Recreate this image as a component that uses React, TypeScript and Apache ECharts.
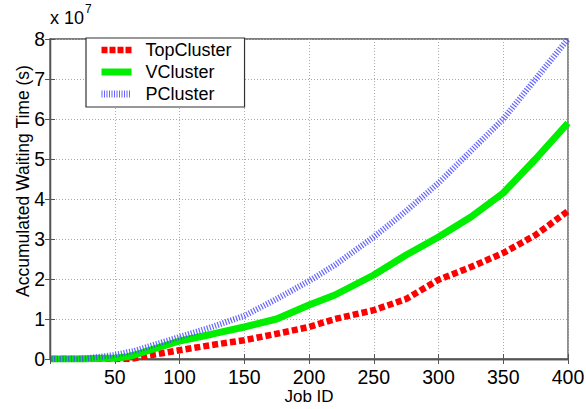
import React, { useEffect, useRef } from "react";
import * as echarts from "echarts";

const jobIds = [1, 25, 40, 50, 60, 65, 75, 100, 125, 150, 175, 200, 220, 250, 275, 300, 325, 350, 375, 400];
const topCluster = [0, 0, 0, 0, 0, 0.02, 0.08, 0.22, 0.35, 0.47, 0.63, 0.8, 1.0, 1.22, 1.5, 1.98, 2.3, 2.65, 3.1, 3.7];
const vCluster = [0, 0, 0.02, 0.02, 0.06, 0.1, 0.2, 0.45, 0.62, 0.8, 1.0, 1.35, 1.6, 2.1, 2.6, 3.05, 3.55, 4.15, 5.0, 5.9];
const pCluster = [0, 0.01, 0.06, 0.1, 0.17, 0.2, 0.3, 0.55, 0.8, 1.08, 1.5, 1.95, 2.35, 3.05, 3.7, 4.4, 5.2, 6.0, 7.0, 8.0];
const seriesNames = ["TopCluster", "VCluster", "PCluster"];
const yTitle = "Accumulated Waiting Time (s)";
const xTitle = "Job ID";
const scale = 1e7;

const pairs = (ys: number[]) => jobIds.map((x, i) => [x, ys[i] * scale]);

export default function App() {
  const ref = useRef<HTMLDivElement>(null);
  useEffect(() => {
    if (!ref.current) return;
    const chart = echarts.init(ref.current, undefined, { renderer: "svg" });
    const font = "Liberation Sans, Arial, sans-serif";
    const gridLine = { show: true, lineStyle: { color: "#aaa", type: [1, 2] as any, width: 1 } };
    const axisLine = { show: true, lineStyle: { color: "#555", width: 1.3 } };
    const tick = { show: true, inside: true, length: 5, lineStyle: { color: "#555" } };
    const redStyle = { color: "#ff0000", width: 6.5, type: [6, 3] };
    const greenStyle = { color: "#00ee00", width: 7, type: "solid" };
    const blueStyle = { color: "#4a4aff", width: 6, type: [1.2, 1.6], opacity: 0.85 };
    chart.setOption({
      animation: false,
      backgroundColor: "#fff",
      textStyle: { fontFamily: font },
      grid: {
        left: 50,
        right: 18,
        top: 39,
        bottom: 50,
        show: true,
        borderColor: "#555",
        borderWidth: 1.3,
        containLabel: false,
        outerBoundsMode: "none",
      },
      legend: {
        left: 86,
        top: 38,
        orient: "vertical",
        data: [
          { name: seriesNames[0], lineStyle: { ...redStyle, type: [6, 2] } },
          { name: seriesNames[1], lineStyle: greenStyle },
          { name: seriesNames[2], lineStyle: { ...blueStyle, width: 7, type: [1, 1.5] } },
        ],
        backgroundColor: "#fff",
        borderColor: "#333",
        borderWidth: 1.2,
        borderRadius: 0,
        padding: [3, 13, 4, 12],
        itemGap: 4,
        itemWidth: 30,
        itemHeight: 14,
        itemStyle: { opacity: 0 },
        textStyle: { fontSize: 18, color: "#000", fontFamily: font, padding: [0, 0, 0, 9] },
      },
      graphic: [
        {
          type: "text",
          left: 50,
          top: 3,
          style: {
            text: "{a|x 10}{b|7}",
            rich: {
              a: { fontSize: 18, fontFamily: font, fill: "#000", verticalAlign: "bottom" },
              b: { fontSize: 12, fontFamily: font, fill: "#000", verticalAlign: "top", padding: [0, 0, 12, 1] },
            },
          },
        },
        {
          type: "text",
          x: 23,
          y: 181,
          rotation: Math.PI / 2,
          style: {
            text: yTitle,
            fontSize: 17.5,
            fontFamily: font,
            fill: "#000",
            align: "center",
            verticalAlign: "middle",
          },
        },
        {
          type: "text",
          x: 309,
          y: 396,
          style: {
            text: xTitle,
            fontSize: 17,
            fontFamily: font,
            fill: "#000",
            align: "center",
            verticalAlign: "middle",
          },
        },
      ],
      xAxis: [
        {
          type: "value",
          min: 0,
          max: 400,
          interval: 50,
          axisLine,
          axisTick: tick,
          axisLabel: { fontSize: 19.5, color: "#000", margin: 8, formatter: (v: number) => (v === 0 ? "" : String(v)) },
          splitLine: gridLine,
        },
        {
          type: "value",
          position: "top",
          min: 0,
          max: 400,
          interval: 50,
          axisLine,
          axisTick: tick,
          axisLabel: { show: false },
          splitLine: { show: false },
        },
      ],
      yAxis: [
        {
          type: "value",
          min: 0,
          max: 8 * scale,
          interval: scale,
          axisLine,
          axisTick: tick,
          axisLabel: { fontSize: 19.5, color: "#000", margin: 5, formatter: (v: number) => String(Math.round(v / scale)) },
          splitLine: gridLine,
        },
        {
          type: "value",
          position: "right",
          min: 0,
          max: 8 * scale,
          interval: scale,
          axisLine,
          axisTick: tick,
          axisLabel: { show: false },
          splitLine: { show: false },
        },
      ],
      series: [
        {
          name: seriesNames[0],
          type: "line",
          data: pairs(topCluster),
          showSymbol: false,
          symbol: "none",
          color: "#ff0000",
          lineStyle: redStyle,
        },
        {
          name: seriesNames[1],
          type: "line",
          data: pairs(vCluster),
          showSymbol: false,
          symbol: "none",
          color: "#00ee00",
          lineStyle: greenStyle,
        },
        {
          name: seriesNames[2],
          type: "line",
          data: pairs(pCluster),
          showSymbol: false,
          symbol: "none",
          color: "#5555ff",
          lineStyle: blueStyle,
        },
      ],
    });
    return () => chart.dispose();
  }, []);
  return <div ref={ref} style={{ width: 586, height: 409, position: "absolute", left: 0, top: 0 }} />;
}
